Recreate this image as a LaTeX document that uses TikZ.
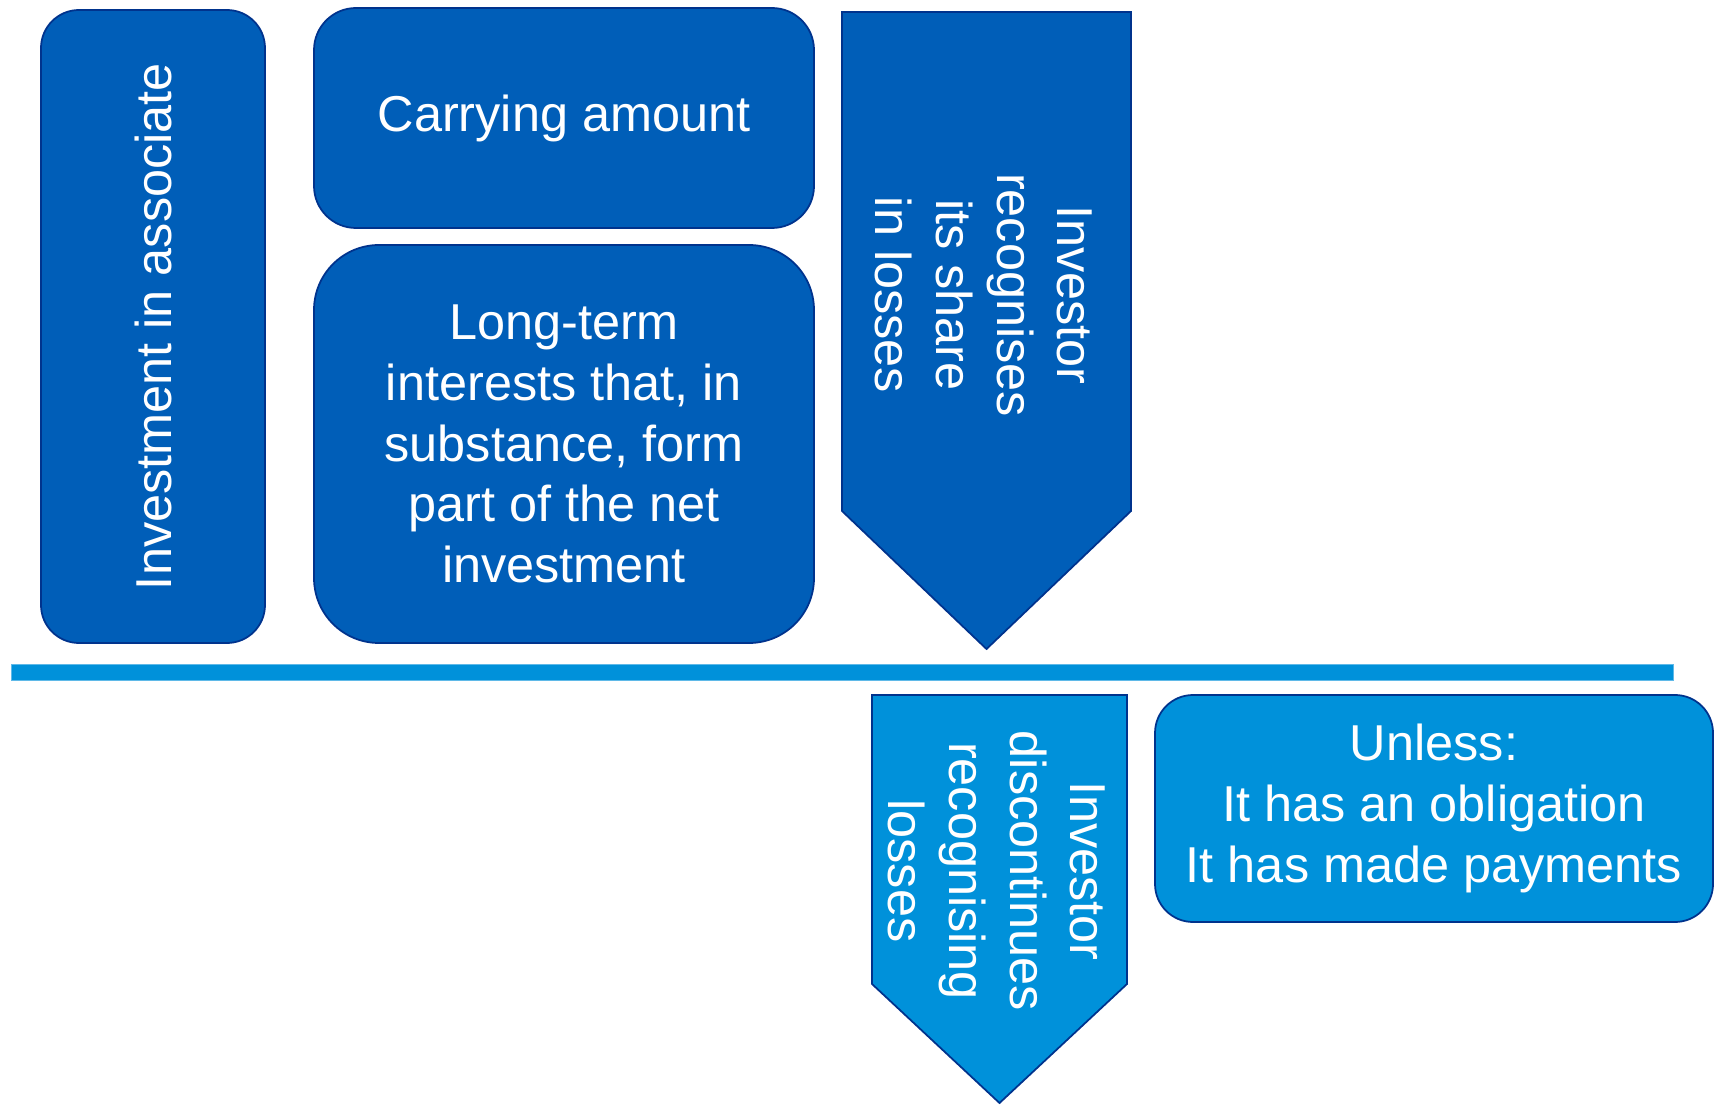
\documentclass[tikz,border=0pt]{standalone}
\usepackage{fontspec}
\setmainfont{Liberation Sans}
\definecolor{kblue}{RGB}{0,94,184}
\definecolor{kdark}{RGB}{0,51,141}
\definecolor{klight}{RGB}{0,145,218}
\definecolor{kline}{RGB}{95,185,232}

\begin{document}
\begin{tikzpicture}
    \tikzstyle{txt}=[text=white, align=center, font=\fontsize{28.7}{34.5}\selectfont]
    \tikzstyle{box}=[txt, draw=kdark, line width=1pt, fill=kblue, rectangle, inner sep=0pt, minimum width=10cm]
    \tikzstyle{lbox}=[box, fill=klight]
    \tikzstyle{wht}=[txt, draw=none, fill=none]

    \useasboundingbox (0,0) rectangle (34.3,22.1);

    \node[box, rotate=90, rounded corners=0.76cm, minimum width=12.66cm, minimum height=4.48cm] (IA) at (3.06,15.57) {Investment in associate};
    \node[box, rounded corners=0.84cm, minimum height=4.4cm] (CA) at (11.28,19.74) {Carrying amount};
    \node[box, rounded corners=1.3cm, minimum height=7.96cm] (LTI) at (11.28,13.22) {Long-term\\interests that, in\\substance, form\\part of the net\\investment};

    % upper arrow
    \draw[draw=kdark, line width=1pt, fill=kblue] (16.84,21.86) -- (22.62,21.86) -- (22.62,11.88) -- (19.73,9.12) -- (16.84,11.88) -- cycle;
    \node[wht, rotate=-90] (IR) at (19.68,16.2) {Investor\\recognises\\its share\\in losses};

    % divider
    \draw[draw=kline, line width=0.4pt, fill=klight] (0.22,8.5) rectangle (33.46,8.82);

    % lower arrow
    \draw[draw=kdark, line width=1pt, fill=klight] (17.44,8.2) -- (22.54,8.2) -- (22.54,2.42) -- (19.99,0.04) -- (17.44,2.42) -- cycle;
    \node[wht, rotate=-90] (ID) at (19.94,4.68) {Investor\\discontinues\\recognising\\losses};
    \node[lbox, rounded corners=0.76cm, minimum width=11.16cm, minimum height=4.54cm] (UL) at (28.68,5.93) {Unless:\\It has an obligation\\It has made payments};
\end{tikzpicture}
\end{document}
